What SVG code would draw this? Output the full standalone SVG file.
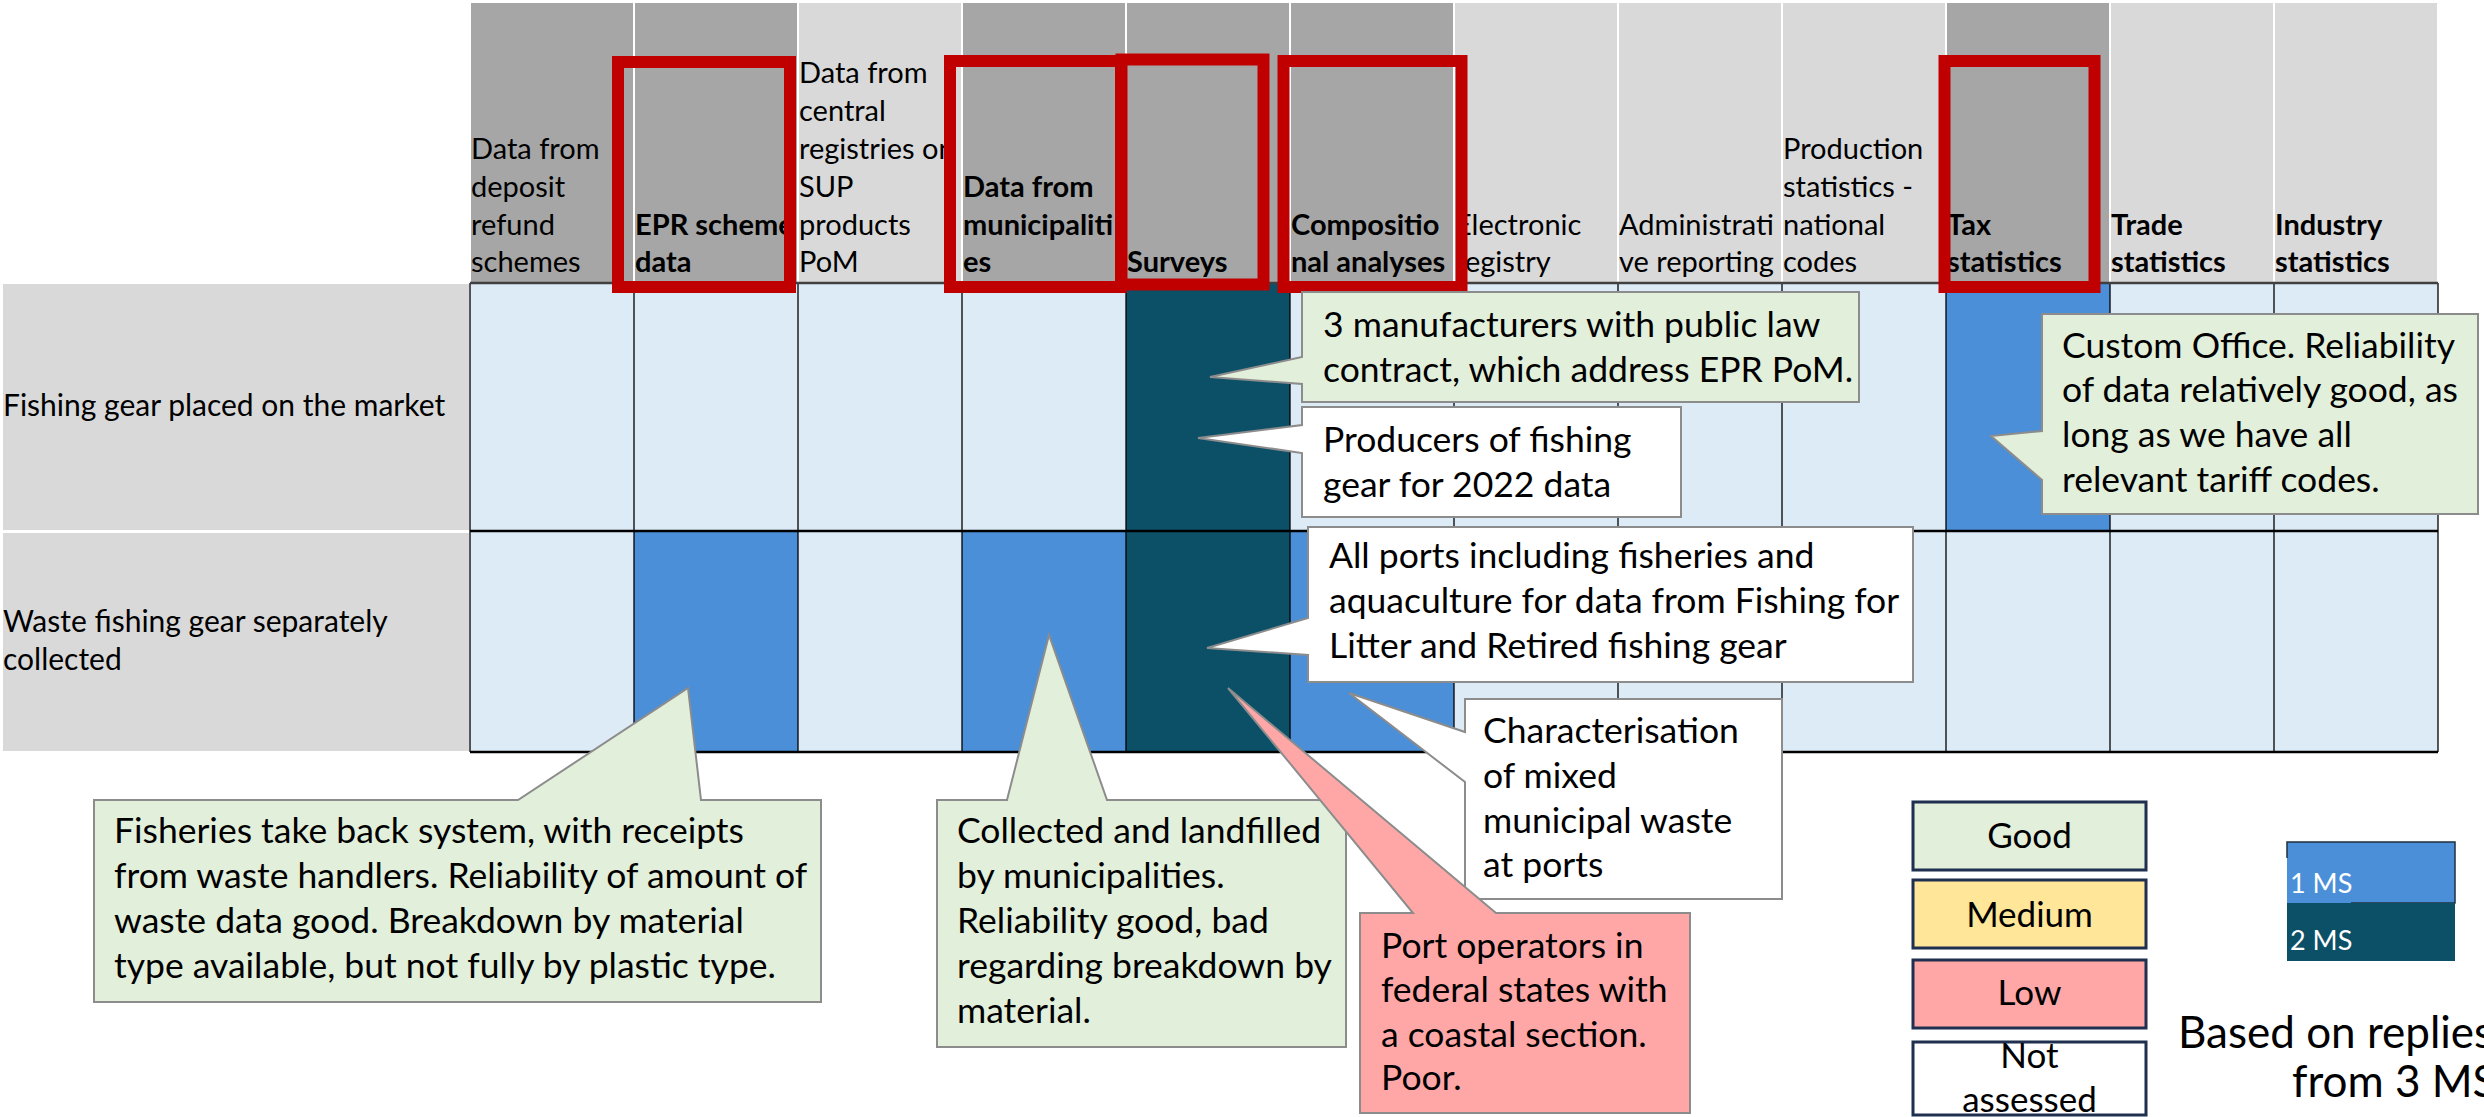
<svg xmlns="http://www.w3.org/2000/svg" width="2484" height="1117" viewBox="0 0 2484 1117">
<style>
text{font-family:Lato,"Liberation Sans",sans-serif;fill:#000}
.h{font-size:29px}
.rl{font-size:30px}
.b{font-weight:bold}
.dk{fill:#A6A6A6}
.lt{fill:#D9D9D9}
.L{fill:#DDEBF7}
.M{fill:#4A8FD8}
.T{fill:#0C5068}
.red{fill:none;stroke:#C00000;stroke-width:12}
.co{stroke:#8C8C8C;stroke-width:2}
.g{fill:#E2EFDA}
.w{fill:#FFFFFF}
.p{fill:#FFA7A7}
.ct{font-size:35.5px}
.lgb{stroke:#1F2F4F;stroke-width:3}
.lgt{font-size:35px;text-anchor:middle}
.ms{font-size:27px;fill:#FFFFFF}
</style>
<defs>
<clipPath id="c1"><rect x="470" y="0" width="164" height="283"/></clipPath>
<clipPath id="c2"><rect x="634" y="0" width="164" height="283"/></clipPath>
<clipPath id="c3"><rect x="798" y="0" width="164" height="283"/></clipPath>
<clipPath id="c4"><rect x="962" y="0" width="164" height="283"/></clipPath>
<clipPath id="c5"><rect x="1126" y="0" width="164" height="283"/></clipPath>
<clipPath id="c6"><rect x="1290" y="0" width="164" height="283"/></clipPath>
<clipPath id="c7"><rect x="1454" y="0" width="164" height="283"/></clipPath>
<clipPath id="c8"><rect x="1618" y="0" width="164" height="283"/></clipPath>
<clipPath id="c9"><rect x="1782" y="0" width="164" height="283"/></clipPath>
<clipPath id="c10"><rect x="1946" y="0" width="164" height="283"/></clipPath>
<clipPath id="c11"><rect x="2110" y="0" width="164" height="283"/></clipPath>
<clipPath id="c12"><rect x="2274" y="0" width="164" height="283"/></clipPath>
<clipPath id="lgclip"><rect x="1913" y="1042" width="233" height="73"/></clipPath>
</defs>

<g id="header">
<rect class="dk" x="471" y="3" width="162" height="280"/>
<rect class="dk" x="635" y="3" width="162" height="280"/>
<rect class="lt" x="799" y="3" width="162" height="280"/>
<rect class="dk" x="963" y="3" width="162" height="280"/>
<rect class="dk" x="1127" y="3" width="162" height="280"/>
<rect class="dk" x="1291" y="3" width="162" height="280"/>
<rect class="lt" x="1455" y="3" width="162" height="280"/>
<rect class="lt" x="1619" y="3" width="162" height="280"/>
<rect class="lt" x="1783" y="3" width="162" height="280"/>
<rect class="dk" x="1947" y="3" width="162" height="280"/>
<rect class="lt" x="2111" y="3" width="162" height="280"/>
<rect class="lt" x="2275" y="3" width="162" height="280"/>

<g id="col1" clip-path="url(#c1)"><text class="h" x="471"><tspan x="471" y="159">Data from</tspan><tspan x="471" y="197">deposit</tspan><tspan x="471" y="235">refund</tspan><tspan x="471" y="272">schemes</tspan></text></g>
<g id="col2" clip-path="url(#c2)"><text class="h b" x="635"><tspan x="635" y="235">EPR scheme</tspan><tspan x="635" y="272">data</tspan></text></g>
<g id="col3" clip-path="url(#c3)"><text class="h" x="799"><tspan x="799" y="83">Data from</tspan><tspan x="799" y="121">central</tspan><tspan x="799" y="159">registries on</tspan><tspan x="799" y="197">SUP</tspan><tspan x="799" y="235">products</tspan><tspan x="799" y="272">PoM</tspan></text></g>
<g id="col4" clip-path="url(#c4)"><text class="h b" x="963"><tspan x="963" y="197">Data from</tspan><tspan x="963" y="235">municipaliti</tspan><tspan x="963" y="272">es</tspan></text></g>
<g id="col5" clip-path="url(#c5)"><text class="h b" x="1127" y="272">Surveys</text></g>
<g id="col6" clip-path="url(#c6)"><text class="h b" x="1291"><tspan x="1291" y="235">Compositio</tspan><tspan x="1291" y="272">nal analyses</tspan></text></g>
<g id="col7" clip-path="url(#c7)"><text class="h" x="1455"><tspan x="1455" y="235">Electronic</tspan><tspan x="1455" y="272">registry</tspan></text></g>
<g id="col8" clip-path="url(#c8)"><text class="h" x="1619"><tspan x="1619" y="235">Administrati</tspan><tspan x="1619" y="272">ve reporting</tspan></text></g>
<g id="col9" clip-path="url(#c9)"><text class="h" x="1783"><tspan x="1783" y="159">Production</tspan><tspan x="1783" y="197">statistics -</tspan><tspan x="1783" y="235">national</tspan><tspan x="1783" y="272">codes</tspan></text></g>
<g id="col10" clip-path="url(#c10)"><text class="h b" x="1947"><tspan x="1947" y="235">Tax</tspan><tspan x="1947" y="272">statistics</tspan></text></g>
<g id="col11" clip-path="url(#c11)"><text class="h b" x="2111"><tspan x="2111" y="235">Trade</tspan><tspan x="2111" y="272">statistics</tspan></text></g>
<g id="col12" clip-path="url(#c12)"><text class="h b" x="2275"><tspan x="2275" y="235">Industry</tspan><tspan x="2275" y="272">statistics</tspan></text></g>
</g>

<g id="body">
<rect class="lt" x="3" y="284" width="466" height="246"/>
<rect class="lt" x="3" y="533" width="466" height="218"/>
<text class="rl" x="3" y="416">Fishing gear placed on the market</text>
<text class="rl"><tspan x="3" y="632">Waste fishing gear separately</tspan><tspan x="3" y="670">collected</tspan></text>

<rect class="L" x="470" y="283" width="164" height="248"/>
<rect class="L" x="634" y="283" width="164" height="248"/>
<rect class="L" x="798" y="283" width="164" height="248"/>
<rect class="L" x="962" y="283" width="164" height="248"/>
<rect class="T" x="1126" y="283" width="164" height="248"/>
<rect class="L" x="1290" y="283" width="164" height="248"/>
<rect class="L" x="1454" y="283" width="164" height="248"/>
<rect class="L" x="1618" y="283" width="164" height="248"/>
<rect class="L" x="1782" y="283" width="164" height="248"/>
<rect class="M" x="1946" y="283" width="164" height="248"/>
<rect class="L" x="2110" y="283" width="164" height="248"/>
<rect class="L" x="2274" y="283" width="164" height="248"/>

<rect class="L" x="470" y="531" width="164" height="221"/>
<rect class="M" x="634" y="531" width="164" height="221"/>
<rect class="L" x="798" y="531" width="164" height="221"/>
<rect class="M" x="962" y="531" width="164" height="221"/>
<rect class="T" x="1126" y="531" width="164" height="221"/>
<rect class="M" x="1290" y="531" width="164" height="221"/>
<rect class="L" x="1454" y="531" width="164" height="221"/>
<rect class="L" x="1618" y="531" width="164" height="221"/>
<rect class="L" x="1782" y="531" width="164" height="221"/>
<rect class="L" x="1946" y="531" width="164" height="221"/>
<rect class="L" x="2110" y="531" width="164" height="221"/>
<rect class="L" x="2274" y="531" width="164" height="221"/>

<g stroke="#000" stroke-width="1.3">
<line x1="470" y1="283" x2="470" y2="752"/>
<line x1="634" y1="283" x2="634" y2="752"/>
<line x1="798" y1="283" x2="798" y2="752"/>
<line x1="962" y1="283" x2="962" y2="752"/>
<line x1="1126" y1="283" x2="1126" y2="752"/>
<line x1="1290" y1="283" x2="1290" y2="752"/>
<line x1="1454" y1="283" x2="1454" y2="752"/>
<line x1="1618" y1="283" x2="1618" y2="752"/>
<line x1="1782" y1="283" x2="1782" y2="752"/>
<line x1="1946" y1="283" x2="1946" y2="752"/>
<line x1="2110" y1="283" x2="2110" y2="752"/>
<line x1="2274" y1="283" x2="2274" y2="752"/>
<line x1="2438" y1="283" x2="2438" y2="752"/>
</g>
<line x1="470" y1="283" x2="2438" y2="283" stroke="#404040" stroke-width="2.5"/>
<line x1="470" y1="531" x2="2438" y2="531" stroke="#000" stroke-width="2.5"/>
<line x1="470" y1="752" x2="2438" y2="752" stroke="#000" stroke-width="2.5"/>
</g>

<g id="highlights">
<rect class="red" x="618" y="62" width="172" height="225"/>
<rect class="red" x="950" y="61" width="171" height="226"/>
<rect class="red" x="1121.5" y="59.5" width="142" height="225"/>
<rect class="red" x="1283.5" y="61" width="178" height="226"/>
<rect class="red" x="1944.5" y="61" width="150" height="226"/>
</g>

<g id="connectors">
</g>

<g id="callout-manufacturers">
<path class="co g" d="M1302,292 H1859 V402 H1302 V384 L1210,377 L1302,357 Z"/>
<text class="ct"><tspan x="1323" y="337">3 manufacturers with public law</tspan><tspan x="1323" y="382">contract, which address EPR PoM.</tspan></text>
</g>
<g id="callout-producers">
<path class="co w" d="M1302,407 H1681 V517 H1302 V453 L1198,438 L1302,425 Z"/>
<text class="ct"><tspan x="1323" y="452">Producers of fishing</tspan><tspan x="1323" y="497">gear for 2022 data</tspan></text>
</g>
<g id="callout-ports">
<path class="co w" d="M1308,527 H1913 V682 H1308 V655 L1207,648 L1308,618 Z"/>
<text class="ct"><tspan x="1329" y="568">All ports including fisheries and</tspan><tspan x="1329" y="613">aquaculture for data from Fishing for</tspan><tspan x="1329" y="658">Litter and Retired fishing gear</tspan></text>
</g>
<g id="callout-custom">
<path class="co g" d="M2042,314 H2478 V514 H2042 V480 L1991,436 L2042,431 Z"/>
<text class="ct"><tspan x="2062" y="358">Custom Office. Reliability</tspan><tspan x="2062" y="402">of data relatively good, as</tspan><tspan x="2062" y="447">long as we have all</tspan><tspan x="2062" y="492">relevant tariff codes.</tspan></text>
</g>
<g id="callout-fisheries">
<path class="co g" d="M94,800 H518 L688,688 L701,800 H821 V1002 H94 Z"/>
<text class="ct"><tspan x="114" y="843">Fisheries take back system, with receipts</tspan><tspan x="114" y="888">from waste handlers. Reliability of amount of</tspan><tspan x="114" y="933">waste data good. Breakdown by material</tspan><tspan x="114" y="978">type available, but not fully by plastic type.</tspan></text>
</g>
<g id="callout-collected">
<path class="co g" d="M937,800 H1007 L1049,635 L1107,800 H1346 V1047 H937 Z"/>
<text class="ct"><tspan x="957" y="843">Collected and landfilled</tspan><tspan x="957" y="888">by municipalities.</tspan><tspan x="957" y="933">Reliability good, bad</tspan><tspan x="957" y="978">regarding breakdown by</tspan><tspan x="957" y="1023">material.</tspan></text>
</g>
<g id="callout-characterisation">
<path class="co w" d="M1465,699 H1782 V899 H1465 V782 L1349,693 L1465,732 Z"/>
<text class="ct"><tspan x="1483" y="743">Characterisation</tspan><tspan x="1483" y="788">of mixed</tspan><tspan x="1483" y="833">municipal waste</tspan><tspan x="1483" y="877">at ports</tspan></text>
</g>
<g id="callout-portoperators">
<path class="co p" d="M1360,913 H1413 L1228,688 L1496,913 H1690 V1113 H1360 Z"/>
<text class="ct"><tspan x="1381" y="958">Port operators in</tspan><tspan x="1381" y="1002">federal states with</tspan><tspan x="1381" y="1047">a coastal section.</tspan><tspan x="1381" y="1090">Poor.</tspan></text>
</g>

<g id="legend-quality">
<rect class="lgb" x="1913" y="802" width="233" height="68" fill="#E2EFDA"/>
<text class="lgt" x="2029.5" y="848">Good</text>
<rect class="lgb" x="1913" y="880" width="233" height="68" fill="#FFE699"/>
<text class="lgt" x="2029.5" y="927">Medium</text>
<rect class="lgb" x="1913" y="960" width="233" height="68" fill="#FFA7A7"/>
<text class="lgt" x="2029.5" y="1005">Low</text>
<rect class="lgb" x="1913" y="1042" width="233" height="73" fill="#FFFFFF"/>
<g clip-path="url(#lgclip)"><text class="lgt"><tspan x="2029.5" y="1068">Not</tspan><tspan x="2029.5" y="1112">assessed</tspan></text></g>
</g>

<g id="legend-ms">
<rect class="M" x="2287" y="842" width="168" height="61"/>
<path d="M2287,858 V842 H2455 V903 H2351" fill="none" stroke="#1F2F3F" stroke-width="1.5"/>
<rect class="T" x="2287" y="903" width="168" height="58"/>
<text class="ms" x="2290" y="893">1 MS</text>
<text class="ms" x="2290" y="950">2 MS</text>
</g>

<g id="note">
<text font-size="44"><tspan x="2178" y="1048">Based on replies</tspan><tspan x="2292" y="1097">from 3 MS</tspan></text>
</g>
</svg>
